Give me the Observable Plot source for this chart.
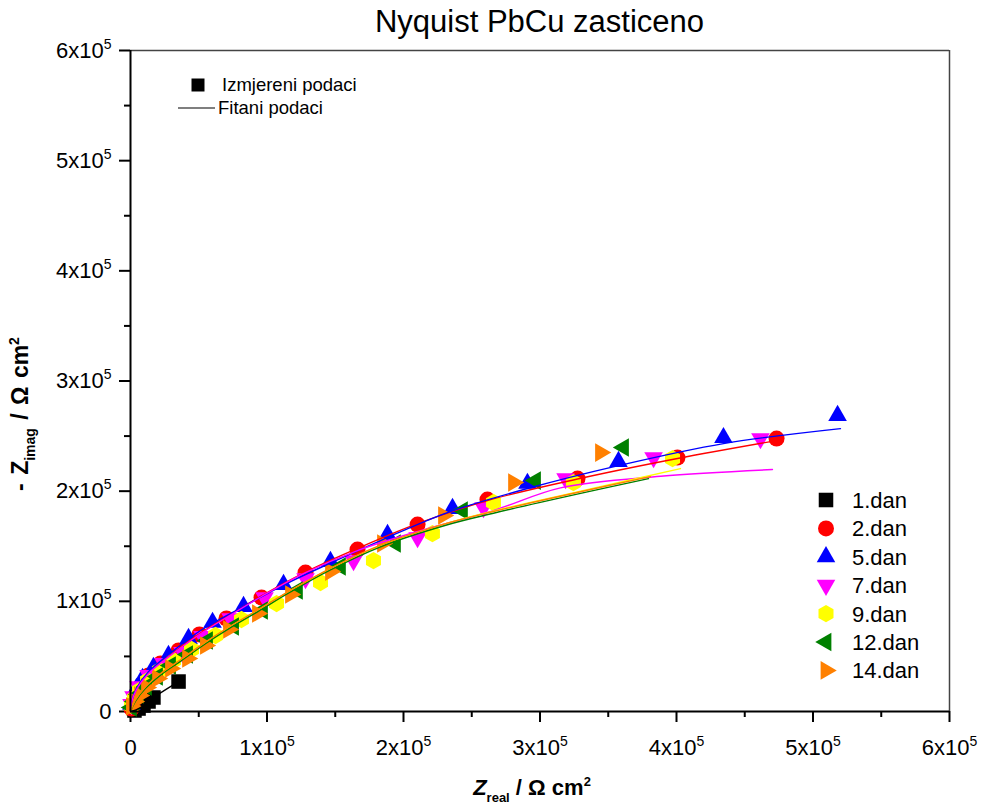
<!DOCTYPE html>
<html><head><meta charset="utf-8">
<script src="https://cdn.jsdelivr.net/npm/d3@7"></script>
<script src="https://cdn.jsdelivr.net/npm/@observablehq/plot@0.6"></script>
<style>
body{margin:0;background:#fff;}
#wrap{position:relative;width:982px;height:808px;font-family:"Liberation Sans",Arial,sans-serif;color:#000;overflow:hidden;}
#wrap svg{display:block}
.abs{position:absolute;white-space:nowrap;}
</style></head><body><div id="wrap"></div>
<script>
// ---- data (values in thousands of Ω·cm²) ----
const days = ["1.dan","2.dan","5.dan","7.dan","9.dan","12.dan","14.dan"];
const xTicks = [0,1e5,2e5,3e5,4e5,5e5,6e5];
const yTicks = [0,1e5,2e5,3e5,4e5,5e5,6e5];
const legendTop = ["Izmjereni podaci","Fitani podaci"];

const day1Re = [2.9,5.9,9.5,13.2,16.8,35.2];
const day1Im = [0.9,2.7,5.4,9.1,12.7,27.2];
const day2Re = [0.7,1.5,3.7,7.3,13.2,22.0,35.2,50.5,70.3,96.0,128.2,166.3,210.3,261.5,327.5,400.7,473.3];
const day2Im = [2.7,7.3,14.5,22.7,32.7,43.6,55.4,69.9,84.4,103.4,126.1,147.0,169.7,192.4,211.4,230.5,247.7];
const day5Re = [0.7,2.2,4.4,8.8,16.8,27.8,42.5,60.1,82.8,112.1,146.5,188.3,235.9,290.8,357.5,434.4,518.0];
const day5Im = [6.4,12.7,20.9,29.9,39.9,50.8,66.2,80.8,95.3,115.2,136.1,160.6,184.2,207.0,226.9,248.6,268.6];
const day7Re = [0.7,2.2,5.9,13.2,24.2,38.1,52.7,73.3,98.2,128.2,163.4,210.3,258.6,318.7,383.2,461.5];
const day7Im = [6.4,13.6,22.7,32.7,43.6,53.6,68.1,84.4,103.4,120.7,137.0,157.9,185.1,211.4,230.5,247.7];
const day9Re = [0.7,2.9,6.6,12.5,21.2,31.5,44.7,62.3,81.3,107.0,139.2,178.0,221.2,265.9,324.5,397.1];
const day9Im = [5.4,11.8,19.1,28.1,37.2,46.3,56.3,69.0,83.5,98.0,117.1,137.0,161.5,189.7,207.8,229.6];
const day12Re = [0.7,2.9,5.9,11.7,19.8,29.3,41.8,56.4,75.5,96.7,122.3,153.8,194.1,243.2,296.7,361.2];
const day12Im = [3.6,9.1,15.4,22.7,31.8,41.7,51.7,64.4,77.1,91.7,109.8,131.6,152.5,182.4,209.6,239.6];
const day14Re = [0.7,2.9,6.6,11.7,19.8,29.3,41.8,54.9,71.8,93.0,117.2,146.5,184.6,229.3,280.6,344.3];
const day14Im = [4.5,9.1,14.5,21.8,29.9,39.0,48.1,59.9,74.4,88.9,106.2,127.0,152.5,177.9,207.8,235.0];

// fitted curves
const fit1Re = [0,2.9,5.9,9.5,13.2,16.8,35.2];
const fit1Im = [0,0.9,2.7,5.4,9.1,12.7,27.2];
const fit2Re = [0,0.7,4.4,13.2,29.3,50.5,70.3,96.0,128.2,166.3,210.3,261.5,327.5,400.7,473.3];
const fit2Im = [0,8.2,20.5,35.0,51.5,70.5,86.0,105.0,126.5,148.0,170.5,191.5,211.0,229.6,245.9];
const fit5Re = [0,0.7,4.4,13.2,27.8,51.3,82.8,112.1,146.5,183.2,232.2,290.8,357.5,434.4,520.1];
const fit5Im = [0,8.5,21.0,36.0,51.5,73.5,95.3,114.8,134.8,155.2,180.6,202.4,223.2,243.2,256.8];
const fit7Re = [0,0.7,4.4,13.2,29.3,50.5,70.3,96.0,128.2,166.3,212.5,265.9,315.0,388.3,470.3];
const fit7Im = [0,8.2,20.0,34.5,50.8,69.9,85.3,104.4,126.1,146.1,164.2,182.4,203.0,213.5,219.6];
const fit9Re = [0,3.7,11.0,22.0,36.6,54.9,71.8,93.0,117.2,146.5,183.2,232.2,265.9,329.7,402.9];
const fit9Im = [0,10.0,21.8,33.6,46.3,62.6,76.2,91.7,109.8,129.8,150.6,171.0,182.0,200.0,220.5];
const fit12Re = [0,3.7,11.0,22.0,36.6,54.9,71.8,93.0,117.2,146.5,183.2,232.2,265.9,329.7,379.5];
const fit12Im = [0,9.5,21.0,33.0,45.5,61.5,75.0,90.5,108.5,128.5,149.5,169.5,180.0,198.0,211.4];
const fit14Re = [0,3.7,11.0,22.0,36.6,54.9,71.8,93.0,117.2,146.5,183.2,232.2,265.9,329.7,380.9];
const fit14Im = [0,10.5,22.5,34.5,47.0,63.0,76.5,92.0,110.0,130.0,151.0,171.0,181.5,199.5,213.2];

// ---- styles ----
const colors = ["#000000","#ff0000","#0000ff","#ff00ff","#ffff00","#008000","#ff8000"];
const sqrt3 = Math.sqrt(3);
function tri(angle){
  return {draw(ctx,size){
    const y = -Math.sqrt(size/(sqrt3*3));
    const pts = [[0,2*y],[-sqrt3*y,-y],[sqrt3*y,-y]];
    const c = Math.cos(angle), s = Math.sin(angle);
    pts.forEach(([px,py],i)=>{const X=px*c-py*s, Y=px*s+py*c; i?ctx.lineTo(X,Y):ctx.moveTo(X,Y);});
    ctx.closePath();
  }};
}
const hexagon = {draw(ctx,size){
  const rx = Math.sqrt(size/Math.PI), ry = rx*2/sqrt3, hy = ry/2;
  ctx.moveTo(0,ry); ctx.lineTo(rx,hy); ctx.lineTo(rx,-hy); ctx.lineTo(0,-ry);
  ctx.lineTo(-rx,-hy); ctx.lineTo(-rx,hy); ctx.closePath();
}};
const symbols = [d3.symbolSquare, d3.symbolCircle, tri(0), tri(Math.PI), hexagon, tri(-Math.PI/2), tri(Math.PI/2)];
const radii = [8.2, 8, 6.9, 6.9, 7.5, 6.9, 6.9];

const measured = [[day1Re,day1Im],[day2Re,day2Im],[day5Re,day5Im],[day7Re,day7Im],[day9Re,day9Im],[day12Re,day12Im],[day14Re,day14Im]];
const fitted = [[fit1Re,fit1Im],[fit2Re,fit2Im],[fit5Re,fit5Im],[fit7Re,fit7Im],[fit9Re,fit9Im],[fit12Re,fit12Im],[fit14Re,fit14Im]];

const toRows = (re, im, name) => re.map((v,i)=>({re: v*1000, im: im[i]*1000, day: name}));

const fmt = d => d === 0 ? "0" : `${Math.round(d/1e5)}x10^5`;
const minor = [0.5e5,1.5e5,2.5e5,3.5e5,4.5e5,5.5e5];

const marks = [
  Plot.axisX({ticks: xTicks, tickSize: 11, tickPadding: 17, tickFormat: fmt, label: null, strokeWidth: 2, fontSize: 22}),
  Plot.axisX({ticks: minor, tickSize: 6, tickFormat: () => "", label: null, strokeWidth: 2}),
  Plot.axisY({ticks: yTicks, tickSize: 11, tickPadding: 8, tickFormat: fmt, label: null, strokeWidth: 2, fontSize: 22}),
  Plot.axisY({ticks: minor, tickSize: 6, tickFormat: () => "", label: null, strokeWidth: 2}),
  Plot.ruleY([6e5], {stroke: "#444", strokeWidth: 1.5}),
  Plot.ruleX([6e5], {stroke: "#444", strokeWidth: 1.5})
];
measured.forEach(([re,im],k) => {
  marks.push(Plot.dot(toRows(re,im,days[k]), {x: "re", y: "im", symbol: symbols[k], r: radii[k], fill: colors[k], stroke: "none"}));
});
fitted.forEach(([re,im],k) => {
  marks.push(Plot.line(toRows(re,im,days[k]), {x: "re", y: "im", stroke: colors[k], strokeWidth: 1.4, curve: "catmull-rom"}));
});
marks.push(Plot.ruleY([0], {strokeWidth: 2}));
marks.push(Plot.ruleX([0], {strokeWidth: 2}));

const chart = Plot.plot({
  width: 982, height: 808,
  marginLeft: 130, marginRight: 33, marginTop: 50, marginBottom: 97,
  x: {domain: [0, 6e5]},
  y: {domain: [0, 6e5]},
  style: {fontFamily: "'Liberation Sans', Arial, sans-serif", fontSize: "22px", color: "#000", background: "#fff", overflow: "visible"},
  marks
});

// superscript exponents in tick labels
chart.querySelectorAll("text").forEach(t => {
  const m = t.textContent.match(/^(\d+)x10\^(\d)$/);
  if (m) {
    t.textContent = "";
    const ns = "http://www.w3.org/2000/svg";
    const a = document.createElementNS(ns, "tspan"); a.textContent = m[1] + "x10";
    const b = document.createElementNS(ns, "tspan"); b.textContent = m[2];
    b.setAttribute("font-size", "14"); b.setAttribute("dy", "-9");
    t.appendChild(a); t.appendChild(b);
  }
});

const wrap = document.getElementById("wrap");
wrap.appendChild(chart);

// title and axis labels
const title = document.createElement("div");
title.className = "abs";
title.style.cssText = "left:130px;width:819px;top:5px;text-align:center;font-size:31px;line-height:34px;";
title.textContent = "Nyquist PbCu zasticeno";
wrap.appendChild(title);

const xl = document.createElement("div");
xl.className = "abs";
xl.style.cssText = "left:532px;top:777px;transform:translateX(-50%);font-size:22px;line-height:22px;font-weight:bold;";
xl.innerHTML = '<i>Z</i><span style="font-size:13px;position:relative;top:7px;">real</span> / Ω cm<span style="font-size:13px;position:relative;top:-9px;">2</span>';
wrap.appendChild(xl);

const yl = document.createElement("div");
yl.className = "abs";
yl.style.cssText = "left:22px;top:414px;transform:translate(-50%,-50%) rotate(-90deg);font-size:23px;line-height:23px;font-weight:bold;word-spacing:2px;";
yl.innerHTML = '- Z<span style="font-size:14px;position:relative;top:7px;">imag</span> / Ω cm<span style="font-size:14px;position:relative;top:-9px;">2</span>';
wrap.appendChild(yl);

// legends
const lg = d3.select(wrap).append("svg").attr("class","abs")
  .attr("width",982).attr("height",808).style("left","0px").style("top","0px")
  .style("pointer-events","none")
  .style("font-family","'Liberation Sans', Arial, sans-serif");

lg.append("path").attr("d", d3.symbol(symbols[0], 13*13)()).attr("transform","translate(198,85)").attr("fill","#000");
lg.append("text").attr("x",222).attr("y",85).attr("dy","0.35em").attr("font-size",18.5).text(legendTop[0]);
lg.append("line").attr("x1",178).attr("x2",215).attr("y1",108).attr("y2",108).attr("stroke","#000").attr("stroke-width",1.2);
lg.append("text").attr("x",218).attr("y",108).attr("dy","0.35em").attr("font-size",18.5).text(legendTop[1]);

days.forEach((d,i) => {
  const y = 500 + i*28.4;
  lg.append("path").attr("d", d3.symbol(symbols[i], Math.PI*radii[i]*radii[i])())
    .attr("transform",`translate(826,${y})`).attr("fill",colors[i]);
  lg.append("text").attr("x",852).attr("y",y).attr("dy","0.36em").attr("font-size",22).text(d);
});
</script></body></html>
